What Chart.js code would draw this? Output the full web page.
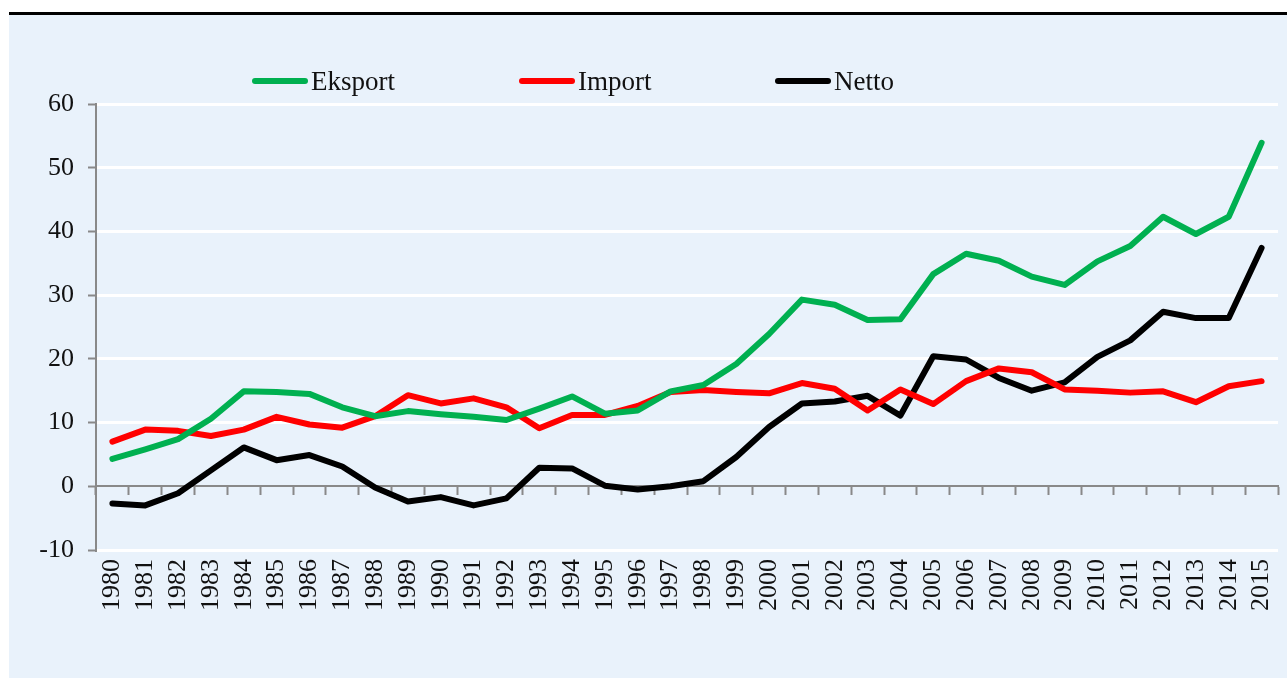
<!DOCTYPE html>
<html>
<head>
<meta charset="utf-8">
<script src="https://cdn.jsdelivr.net/npm/chart.js@4"></script>
<style>
  body { margin: 0; background: #fff; width: 1287px; height: 678px; overflow: hidden; position: relative; font-family: "Liberation Serif", serif; }
  #topline { position: absolute; left: 9px; top: 12px; width: 1278px; height: 3px; background: #000; }
  #panel { position: absolute; left: 9px; top: 15px; width: 1278px; height: 663px; background: #e9f2fb; }
  #chart { position: absolute; left: 0; top: 0; }
  .sw { position: absolute; top: 63px; width: 56px; height: 6px; border-radius: 3px; }
  .lt { position: absolute; top: 53px; font-size: 27px; line-height: 27px; color: #111; white-space: nowrap; }
</style>
</head>
<body>
<div id="topline"></div>
<div id="panel">
  <canvas id="chart" width="1278" height="663"></canvas>
  <div id="legend"></div>
</div>
<script>
const years = ['1980','1981','1982','1983','1984','1985','1986','1987','1988','1989',
               '1990','1991','1992','1993','1994','1995','1996','1997','1998','1999',
               '2000','2001','2002','2003','2004','2005','2006','2007','2008','2009',
               '2010','2011','2012','2013','2014','2015'];

const eksport = [4.3, 5.8, 7.4, 10.6, 14.9, 14.8, 14.5, 12.4, 11.0, 11.8,
                 11.3, 10.9, 10.4, 12.2, 14.1, 11.4, 11.9, 14.9, 15.9, 19.2,
                 23.9, 29.3, 28.5, 26.1, 26.2, 33.3, 36.5, 35.4, 32.9, 31.6,
                 35.3, 37.7, 42.3, 39.6, 42.3, 53.9];

const importVals = [7.0, 8.9, 8.7, 7.9, 8.9, 10.9, 9.7, 9.2, 11.0, 14.3,
                    13.0, 13.8, 12.4, 9.1, 11.2, 11.2, 12.6, 14.8, 15.1, 14.8,
                    14.6, 16.2, 15.3, 11.9, 15.2, 12.9, 16.5, 18.5, 17.9, 15.2,
                    15.0, 14.7, 14.9, 13.2, 15.7, 16.5];

const netto = [-2.7, -3.0, -1.1, 2.5, 6.1, 4.1, 4.9, 3.1, -0.2, -2.4,
               -1.7, -3.0, -1.9, 2.9, 2.8, 0.1, -0.5, 0.0, 0.8, 4.6,
               9.3, 13.0, 13.3, 14.2, 11.1, 20.4, 19.9, 17.0, 15.0, 16.3,
               20.3, 22.9, 27.4, 26.4, 26.4, 37.4];

const yMin = -10, yMax = 60, yStep = 10;

const series = [
  { label: 'Eksport', data: eksport, color: '#00b050' },
  { label: 'Import', data: importVals, color: '#ff0000' },
  { label: 'Netto', data: netto, color: '#000000' }
];

// legend in html (positions as in the original)
const legendX = [243, 510, 766];
const legend = document.getElementById('legend');
series.forEach((s, i) => {
  const sw = document.createElement('div');
  sw.className = 'sw';
  sw.style.left = legendX[i] + 'px';
  sw.style.background = s.color;
  const t = document.createElement('div');
  t.className = 'lt';
  t.style.left = (legendX[i] + 59) + 'px';
  t.textContent = s.label;
  legend.appendChild(sw);
  legend.appendChild(t);
});

const axisGray = '#898989';

new Chart(document.getElementById('chart').getContext('2d'), {
  type: 'line',
  data: {
    labels: years,
    datasets: series.map((s) => ({
      label: s.label,
      data: s.data,
      borderColor: s.color,
      backgroundColor: s.color,
      borderWidth: 6,
      pointRadius: 0,
      tension: 0,
      borderCapStyle: 'round',
      borderJoinStyle: 'round',
      fill: false
    }))
  },
  options: {
    responsive: false,
    animation: false,
    devicePixelRatio: 1,
    layout: { padding: { top: 89, right: 9, bottom: 0, left: 0 } },
    plugins: {
      legend: { display: false },
      tooltip: { enabled: false }
    },
    scales: {
      x: {
        type: 'category',
        offset: true,
        grid: { display: false, drawTicks: false },
        border: { display: false },
        ticks: {
          autoSkip: false,
          maxRotation: 90,
          minRotation: 90,
          padding: 9,
          color: '#111',
          font: { family: 'Liberation Serif', size: 26 }
        },
        afterFit: (s) => {
          s.height = 128;
          s.paddingLeft = 0;
          s.paddingRight = 0;
        }
      },
      // zero line with the year tick marks
      xz: {
        type: 'category',
        axis: 'x',
        labels: years,
        offset: true,
        position: { y: 0 },
        grid: {
          offset: true,
          drawOnChartArea: false,
          drawTicks: true,
          tickLength: 8,
          tickWidth: 2,
          tickColor: axisGray
        },
        border: { color: axisGray, width: 2 },
        ticks: { display: false }
      },
      y: {
        min: yMin,
        max: yMax,
        ticks: {
          stepSize: yStep,
          padding: 14,
          color: '#111',
          font: { family: 'Liberation Serif', size: 26 }
        },
        grid: {
          color: (ctx) => (ctx.tick && ctx.tick.value === 0) ? 'rgba(0,0,0,0)' : '#ffffff',
          lineWidth: 3,
          tickLength: 8,
          tickWidth: 2,
          tickColor: axisGray
        },
        border: { color: axisGray, width: 2 },
        afterFit: (s) => { s.width = 87; }
      }
    }
  }
});
</script>
</body>
</html>
